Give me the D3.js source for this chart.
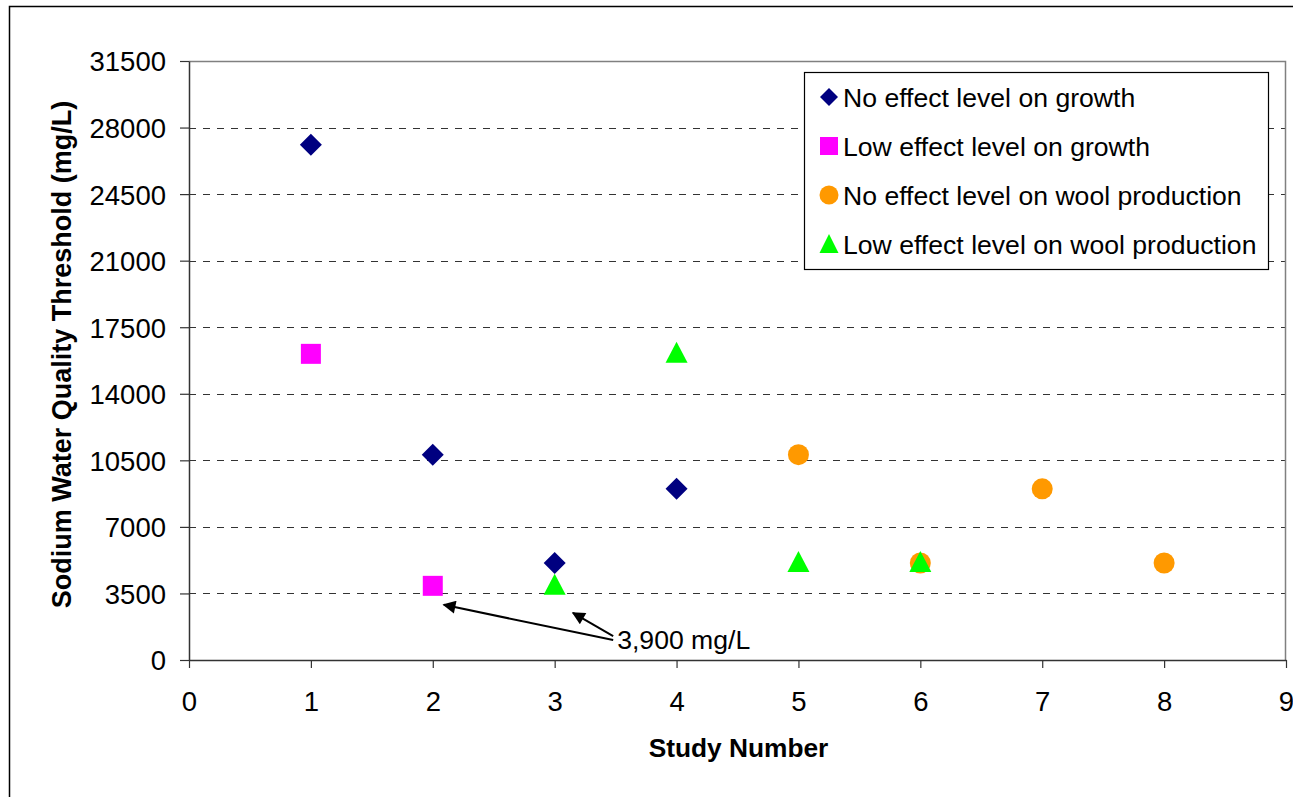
<!DOCTYPE html>
<html>
<head>
<meta charset="utf-8">
<script src="https://cdn.jsdelivr.net/npm/d3@7"></script>
<style>
  body { margin: 0; background: #fff; }
  svg { font-family: "Liberation Sans", Arial, sans-serif; }
</style>
</head>
<body>
<svg id="chart" width="1293" height="797"></svg>
<script>
// series data, [study number, threshold mg/L]
var noEffectGrowth = [[1, 27100], [2, 10800], [3, 5100], [4, 9000]];
var lowEffectGrowth = [[1, 16100], [2, 3900]];
var noEffectWool = [[5, 10800], [6, 5100], [7, 9000], [8, 5100]];
var lowEffectWool = [[3, 3900], [4, 16100], [5, 5100], [6, 5100]];

var xTicks = [0, 1, 2, 3, 4, 5, 6, 7, 8, 9];
var yTicks = [0, 3500, 7000, 10500, 14000, 17500, 21000, 24500, 28000, 31500];

var seriesNames = ['No effect level on growth', 'Low effect level on growth',
  'No effect level on wool production', 'Low effect level on wool production'];

// annotation: label anchor and arrow tips in data units
var noteLabel = '3,900 mg/L';
var noteAnchor = [3.48, 1050];
var noteTips = [[2.09, 2900], [3.15, 2480]];

var margin = {top: 61, right: 7, bottom: 137, left: 189};
var fullWidth = 1293, fullHeight = 797;
var width = fullWidth - margin.left - margin.right;
var height = fullHeight - margin.top - margin.bottom;
var fontSize = 26.6;

var svg = d3.select('#chart');

// outer frame (runs off the right and bottom edge like the original)
svg.append('rect')
  .attr('x', 9.5).attr('y', 6.5)
  .attr('width', 1300).attr('height', 800)
  .attr('fill', 'none').attr('stroke', '#000').attr('stroke-width', 1.5);

var defs = svg.append('defs');
defs.append('marker')
  .attr('id', 'arrow')
  .attr('viewBox', '0 0 10 10')
  .attr('refX', 9).attr('refY', 5)
  .attr('markerWidth', 15).attr('markerHeight', 13)
  .attr('markerUnits', 'userSpaceOnUse')
  .attr('orient', 'auto')
  .append('path')
  .attr('d', 'M0,0 L10,5 L0,10 Z')
  .attr('fill', '#000');

var g = svg.append('g')
  .attr('transform', 'translate(' + margin.left + ',' + margin.top + ')');

var x = d3.scaleLinear().domain([0, 9]).range([0, width]);
var y = d3.scaleLinear().domain([0, 31500]).range([height, 0]);

// gridlines
g.append('g')
  .selectAll('line')
  .data(yTicks.filter(function(d) { return d > 0 && d < 31500; }))
  .enter().append('line')
  .attr('x1', 0).attr('x2', width)
  .attr('y1', function(d) { return Math.round(y(d)) + 0.5; })
  .attr('y2', function(d) { return Math.round(y(d)) + 0.5; })
  .attr('stroke', '#333')
  .attr('stroke-dasharray', '7,7');

// plot area top and right border
g.append('path')
  .attr('d', 'M0,0.5 H' + (width - 0.5) + ' V' + height)
  .attr('fill', 'none').attr('stroke', '#808080').attr('stroke-width', 1.5);

var xAxis = d3.axisBottom(x).tickValues(xTicks).tickSize(8).tickSizeOuter(0).tickPadding(23);
var yAxis = d3.axisLeft(y).tickValues(yTicks).tickFormat(d3.format('d'))
  .tickSize(9).tickSizeOuter(0).tickPadding(14);

var xg = g.append('g')
  .attr('transform', 'translate(0,' + height + ')')
  .call(xAxis);
var yg = g.append('g').call(yAxis);

[xg, yg].forEach(function(ax) {
  ax.attr('font-family', null).attr('font-size', null);
  ax.select('.domain').attr('stroke', '#333').attr('stroke-width', 1.5);
  ax.selectAll('.tick line').attr('stroke', '#333').attr('stroke-width', 1.2);
  ax.selectAll('.tick text')
    .style('font-size', '27.5px').attr('fill', '#000');
});
yg.selectAll('.tick text').attr('dy', '0.36em');
xg.selectAll('.tick text').attr('dy', '0.71em');

// axis titles
svg.append('text')
  .attr('x', margin.left + width / 2 + 1)
  .attr('y', 757)
  .attr('text-anchor', 'middle')
  .attr('font-weight', 'bold')
  .style('font-size', '26.3px')
  .text('Study Number');

svg.append('text')
  .attr('transform', 'translate(71,' + (margin.top + height / 2 - 6) + ') rotate(-90)')
  .attr('text-anchor', 'middle')
  .attr('font-weight', 'bold')
  .style('font-size', '27px')
  .text('Sodium Water Quality Threshold (mg/L)');

// marker shapes
var shapes = [
  {data: noEffectGrowth, color: '#000080', path: 'M0,-11 L11,0 L0,11 L-11,0 Z'},
  {data: lowEffectGrowth, color: '#ff00ff', path: 'M-10,-10 H10 V10 H-10 Z'},
  {data: noEffectWool, color: '#ff9900', path: d3.symbol().type(d3.symbolCircle).size(Math.PI * 10.5 * 10.5)()},
  {data: lowEffectWool, color: '#00ff00', path: 'M0,-12 L11,9 L-11,9 Z'}
];

shapes.forEach(function(s) {
  g.append('g')
    .selectAll('path')
    .data(s.data)
    .enter().append('path')
    .attr('transform', function(d) { return 'translate(' + x(d[0]) + ',' + y(d[1]) + ')'; })
    .attr('d', s.path)
    .attr('fill', s.color);
});

// annotation
noteTips.forEach(function(t) {
  g.append('line')
    .attr('x1', x(noteAnchor[0])).attr('y1', y(noteAnchor[1]) - (t[0] < 3 ? 0 : 4))
    .attr('x2', x(t[0])).attr('y2', y(t[1]))
    .attr('stroke', '#000').attr('stroke-width', 2)
    .attr('marker-end', 'url(#arrow)');
});
g.append('text')
  .attr('x', x(noteAnchor[0]) + 4)
  .attr('y', y(noteAnchor[1]) + 9)
  .style('font-size', fontSize + 'px')
  .text(noteLabel);

// legend
var legend = svg.append('g').attr('transform', 'translate(804,72)');
legend.append('rect')
  .attr('x', 0.5).attr('y', 0.5)
  .attr('width', 464).attr('height', 197)
  .attr('fill', '#fff').attr('stroke', '#000').attr('stroke-width', 1.2);

var legendShapes = [
  'M0,-9 L9,0 L0,9 L-9,0 Z',
  'M-9,-9 H9 V9 H-9 Z',
  d3.symbol().type(d3.symbolCircle).size(Math.PI * 9.5 * 9.5)(),
  'M0,-10 L9.5,9 L-9.5,9 Z'
];

seriesNames.forEach(function(name, i) {
  var row = legend.append('g').attr('transform', 'translate(0,' + (25 + i * 49) + ')');
  row.append('path')
    .attr('transform', 'translate(25,0)')
    .attr('d', legendShapes[i])
    .attr('fill', shapes[i].color);
  row.append('text')
    .attr('x', 39).attr('dy', '0.36em')
    .style('font-size', fontSize + 'px')
    .text(name);
});
</script>
</body>
</html>
